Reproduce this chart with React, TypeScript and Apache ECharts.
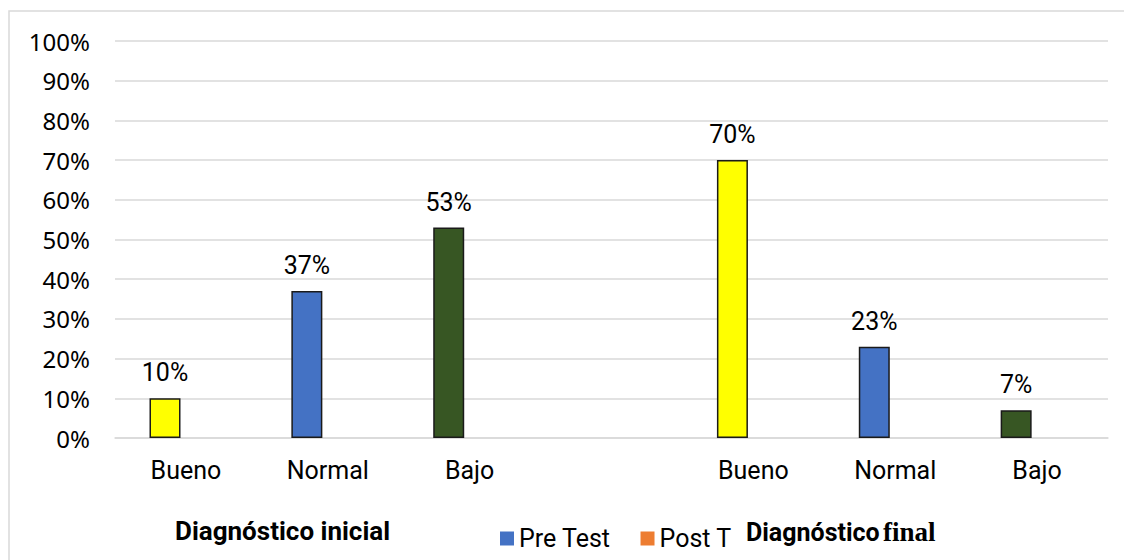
import React, { useEffect, useRef } from 'react';
import * as echarts from 'echarts';

const categories = ['Bueno', 'Normal', 'Bajo', '', 'Bueno', 'Normal', 'Bajo'];
const preTest: (number | null)[] = [10, 37, 53, null, 70, 23, 7];
const postTest: (number | null)[] = [null, null, null, null, null, null, null];
const barColors = ['#FFFF00', '#4472C4', '#375623', '#FFFFFF', '#FFFF00', '#4472C4', '#375623'];
const seriesNames = ['Pre Test', 'Post Test'];
const groupTitleLeft = 'Diagnóstico inicial';
const groupTitleRightA = 'Diagnóstico';
const groupTitleRightB = 'final';

export default function App() {
  const ref = useRef<HTMLDivElement>(null);
  useEffect(() => {
    if (!ref.current) return;
    const chart = echarts.init(ref.current, undefined, { renderer: 'svg' });
    chart.setOption({
      animation: false,
      backgroundColor: '#ffffff',
      grid: { left: 115, right: 16, top: 41, bottom: 122 },
      xAxis: {
        type: 'category',
        data: categories,
        axisTick: { show: false },
        axisLine: { lineStyle: { color: '#d9d9d9', width: 1.5 } },
        axisLabel: { interval: 0, fontFamily: 'Roboto', fontSize: 25, color: '#000', margin: 20 },
      },
      yAxis: {
        type: 'value',
        min: 0,
        max: 100,
        interval: 10,
        axisLine: { show: false },
        axisTick: { show: false },
        axisLabel: { formatter: '{value}%', fontFamily: 'Noto Sans', fontSize: 24, color: '#000', margin: 25 },
        splitLine: { lineStyle: { color: '#d9d9d9', width: 1.5 } },
      },
      legend: {
        left: 495,
        top: 521,
        icon: 'rect',
        itemWidth: 14,
        itemHeight: 14,
        itemGap: 30,
        itemStyle: { borderWidth: 0 },
        textStyle: { fontFamily: 'Roboto', fontSize: 25, color: '#000' },
        data: [
          { name: seriesNames[0] },
          {
            name: seriesNames[1],
            textStyle: { width: 76, overflow: 'truncate', ellipsis: '' },
          },
        ],
      },
      series: [
        {
          name: seriesNames[0],
          type: 'bar',
          barWidth: 31,
          barGap: '35%',
          itemStyle: { color: '#4472C4', borderColor: '#1a1a1a', borderWidth: 1.5 },
          data: preTest.map((v, i) => ({ value: v, itemStyle: { color: barColors[i] } })),
          label: {
            show: true,
            position: 'top',
            distance: 13,
            formatter: (p: any) => (p.value == null ? '' : p.value + '%'),
            fontFamily: 'Roboto',
            fontSize: 25,
            color: '#000',
          },
        },
        {
          name: seriesNames[1],
          type: 'bar',
          barWidth: 31,
          itemStyle: { color: '#ED7D31' },
          data: postTest,
        },
      ],
      graphic: [
        {
          type: 'rect',
          silent: true,
          z: -1,
          shape: { x: 9, y: 11, width: 1400, height: 800 },
          style: { fill: 'none', stroke: '#d9d9d9', lineWidth: 1.5 },
        },
        {
          type: 'text',
          x: 175,
          y: 531,
          style: {
            text: groupTitleLeft,
            fontFamily: 'Roboto',
            fontWeight: 'bold',
            fontSize: 26,
            fill: '#000',
            verticalAlign: 'middle',
          },
        },
        {
          type: 'text',
          z: 101,
          x: 746,
          y: 532,
          style: {
            text: '{a|' + groupTitleRightA + '} {b|' + groupTitleRightB + '}',
            verticalAlign: 'middle',
            rich: {
              a: { fontFamily: 'Roboto', fontWeight: 'bold', fontSize: 25, fill: '#000' },
              b: { fontFamily: 'Liberation Serif', fontWeight: 'bold', fontSize: 27, fill: '#000' },
            },
          },
        },
      ],
    });
    return () => chart.dispose();
  }, []);
  return (
    <div
      ref={ref}
      style={{ position: 'fixed', left: 0, top: 0, width: 1124, height: 560, background: '#fff' }}
    />
  );
}
